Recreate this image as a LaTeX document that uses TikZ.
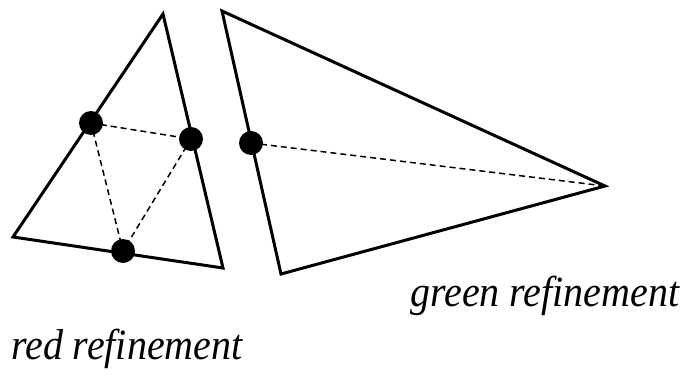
\documentclass[tikz,border=0pt]{standalone}
\usepackage{fontspec}
\setmainfont{Liberation Serif}
\newfontfamily\lblfont{Liberation Serif Italic}
\begin{document}
\begin{tikzpicture}[x=1pt,y=-1pt,
  edge/.style={line width=3pt,line join=miter},
  split/.style={line width=1.5pt,dash pattern=on 6pt off 4pt},
  dot/.style={circle,fill=black,inner sep=0pt,minimum size=24pt},
  lbl/.style={font=\lblfont\fontsize{40}{46}\selectfont,inner sep=0pt,anchor=base west,yscale=1.08,transform shape}]
\useasboundingbox (0,0) rectangle (686,379);
% left triangle
\coordinate (A) at (163,14);
\coordinate (B) at (13,237);
\coordinate (C) at (223,268);
\draw[edge] (A) -- (B) -- (C) -- cycle;
% right triangle
\coordinate (P) at (222,11);
\coordinate (Q) at (281,274);
\coordinate (R) at (605,186);
\draw[edge] (P) -- (Q) -- (R) -- cycle;
% midpoints
\node[dot] (m1) at (91,123) {};
\node[dot] (m2) at (191,139) {};
\node[dot] (m3) at (123,251) {};
\node[dot] (m4) at (251,143) {};
\draw[split] (m1.center) -- (m2.center) -- (m3.center) -- cycle;
\draw[split] (m4.center) -- (R);
\node[lbl] (g) at (410,307) {green refinement};
\node[lbl] (r) at (11,360) {red refinement};
\end{tikzpicture}
\end{document}
